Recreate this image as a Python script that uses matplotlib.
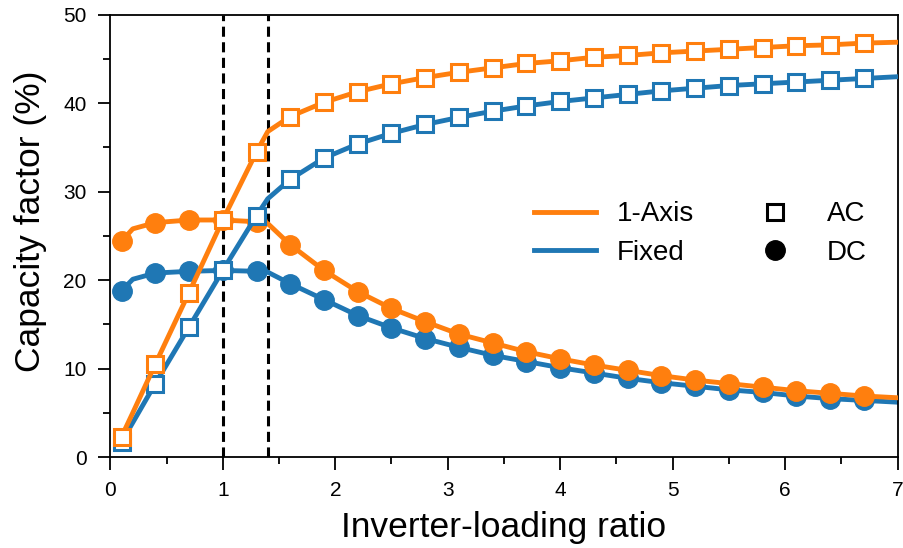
import numpy as np
import matplotlib
matplotlib.use("Agg")
import matplotlib.pyplot as plt
from matplotlib.lines import Line2D
from matplotlib.ticker import MultipleLocator

plt.rcParams['font.family'] = ['Liberation Sans', 'DejaVu Sans']

# Inverter-loading ratio (line points; markers sit on every point except the extras)
ilr = [0.1, 0.2, 0.4, 0.7, 1.0, 1.3, 1.4, 1.6, 1.9, 2.2, 2.5, 2.8, 3.1, 3.4,
       3.7, 4.0, 4.3, 4.6, 4.9, 5.2, 5.5, 5.8, 6.1, 6.4, 6.7, 7.0]
no_marker = [0.2, 1.4, 7.0]

# Capacity factor (%)
axis_ac = [2.3, 5.0, 10.5, 18.6, 26.8, 34.5, 36.8, 38.5, 40.1, 41.3, 42.2, 42.9,
           43.5, 44.0, 44.5, 44.8, 45.2, 45.4, 45.7, 45.9, 46.1, 46.3, 46.5,
           46.6, 46.8, 46.9]
fixed_ac = [1.7, 3.9, 8.3, 14.7, 21.1, 27.3, 29.2, 31.4, 33.8, 35.4, 36.6, 37.6,
            38.4, 39.1, 39.7, 40.2, 40.6, 41.0, 41.4, 41.7, 42.0, 42.2, 42.4,
            42.6, 42.8, 43.0]
axis_dc = [24.4, 25.8, 26.5, 26.8, 26.8, 26.6, 26.4, 24.0, 21.1, 18.7, 16.8, 15.3,
           13.9, 12.9, 11.9, 11.1, 10.4, 9.8, 9.2, 8.7, 8.3, 7.9, 7.5, 7.2,
           6.9, 6.7]
fixed_dc = [18.8, 20.1, 20.8, 21.0, 21.1, 21.0, 20.9, 19.6, 17.8, 16.0, 14.6, 13.4,
            12.4, 11.5, 10.8, 10.1, 9.5, 8.9, 8.4, 8.0, 7.6, 7.3, 6.9, 6.6,
            6.4, 6.2]

vlines = [1.0, 1.4]

orange = '#ff7f0e'
blue = '#1f77b4'
mark_idx = [i for i, x in enumerate(ilr) if x not in no_marker]

fig = plt.figure(figsize=(9.04, 5.48), dpi=100)
ax = fig.add_axes([0.122, 0.166, 0.871, 0.807])

for xv in vlines:
    ax.axvline(xv, color='black', lw=2.2, ls=(0, (3.3, 1.8)), zorder=1)

ax.plot(ilr, fixed_dc, color=blue, lw=3.5, marker='o', ms=14,
        markevery=mark_idx, zorder=2)
ax.plot(ilr, axis_dc, color=orange, lw=3.5, marker='o', ms=14,
        markevery=mark_idx, zorder=3)
ax.plot(ilr, fixed_ac, color=blue, lw=3.5, marker='s', ms=11.5, mfc='white',
        mew=2.2, markevery=mark_idx, zorder=4)
ax.plot(ilr, axis_ac, color=orange, lw=3.5, marker='s', ms=11.5, mfc='white',
        mew=2.2, markevery=mark_idx, zorder=5)

ax.set_xlim(0, 7)
ax.set_ylim(0, 50)
ax.xaxis.set_major_locator(MultipleLocator(1))
ax.xaxis.set_minor_locator(MultipleLocator(0.5))
ax.yaxis.set_major_locator(MultipleLocator(10))
ax.yaxis.set_minor_locator(MultipleLocator(5))
ax.tick_params(which='major', direction='out', length=9, width=1.3,
               labelsize=15, pad=8)
ax.tick_params(which='minor', direction='out', length=5, width=1.3)
for sp in ax.spines.values():
    sp.set_linewidth(1.3)

ax.set_xlabel('Inverter-loading ratio', fontsize=25.5, labelpad=8)
ax.set_ylabel('Capacity factor (%)', fontsize=25.5)
ax.yaxis.set_label_coords(-0.08, 0.534)

handles = [
    Line2D([], [], color=orange, lw=3.5),
    Line2D([], [], color=blue, lw=3.5),
    Line2D([], [], ls='none', marker='s', ms=11.5, mfc='white', mec='black', mew=2.2),
    Line2D([], [], ls='none', marker='o', ms=14, color='black'),
]
labels = ['1-Axis', 'Fixed', 'AC', 'DC']
ax.legend(handles, labels, ncol=2, frameon=False, fontsize=20,
          loc='center', bbox_to_anchor=(0.749, 0.505),
          handlelength=2.23, handletextpad=0.75, columnspacing=1.8,
          labelspacing=0.45)

fig.savefig('out.png', dpi=100)
